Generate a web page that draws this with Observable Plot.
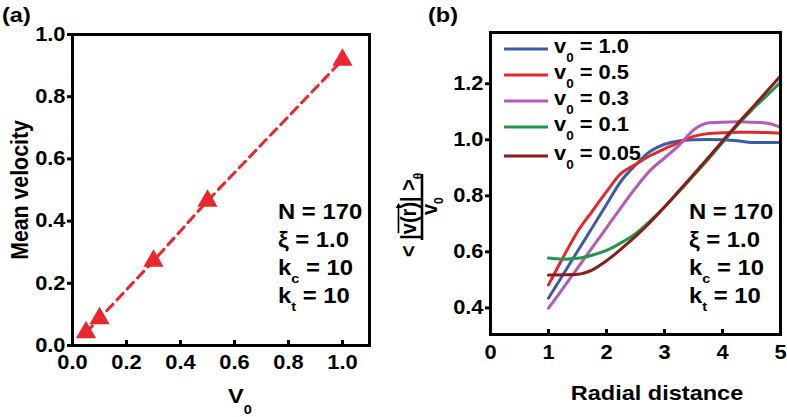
<!DOCTYPE html>
<html>
<head>
<meta charset="utf-8">
<script src="https://cdn.jsdelivr.net/npm/d3@7"></script>
<script src="https://cdn.jsdelivr.net/npm/@observablehq/plot@0.6"></script>
<style>
  html, body { margin: 0; padding: 0; background: #fff; }
  #wrap { position: relative; width: 787px; height: 417px; overflow: hidden; background: #fff;
          font-family: "Liberation Sans", Arial, sans-serif; font-weight: bold; }
  #wrap > .p { position: absolute; top: 0; }
  #wrap > .p text { font-family: "Liberation Sans", Arial, sans-serif; font-size: 19.5px; font-weight: bold; }
  #overlay { position: absolute; left: 0; top: 0; pointer-events: none; }
  #overlay text { font-family: "Liberation Sans", Arial, sans-serif; font-weight: bold; fill: #000; }
</style>
</head>
<body>
<div id="wrap"></div>
<script>
// ---------- Panel (a) data ----------
const v0Values = [0.05, 0.1, 0.3, 0.5, 1.0];
const meanVelocity = [0.042, 0.087, 0.272, 0.465, 0.918];
const aXTicks = [0.0, 0.2, 0.4, 0.6, 0.8, 1.0];
const aYTicks = [0.0, 0.2, 0.4, 0.6, 0.8, 1.0];

// ---------- Panel (b) data ----------
const radial = [1.0, 1.25, 1.5, 1.75, 2.0, 2.25, 2.5, 2.75, 3.0, 3.25, 3.5, 3.75, 4.0, 4.25, 4.5, 4.75, 5.0];
const v10  = [0.435, 0.518, 0.602, 0.685, 0.769, 0.852, 0.910, 0.958, 0.984, 0.996, 1.000, 1.001, 1.000, 0.997, 0.990, 0.990, 0.990];
const v05  = [0.482, 0.580, 0.672, 0.744, 0.815, 0.880, 0.912, 0.943, 0.968, 0.990, 1.012, 1.022, 1.025, 1.027, 1.027, 1.026, 1.023];
const v03  = [0.399, 0.470, 0.542, 0.614, 0.686, 0.758, 0.828, 0.890, 0.935, 0.980, 1.035, 1.060, 1.063, 1.064, 1.063, 1.060, 1.045];
const v01  = [0.578, 0.574, 0.577, 0.588, 0.605, 0.632, 0.665, 0.710, 0.760, 0.815, 0.872, 0.930, 0.990, 1.050, 1.105, 1.155, 1.205];
const v005 = [0.517, 0.518, 0.520, 0.535, 0.568, 0.610, 0.655, 0.705, 0.760, 0.818, 0.876, 0.935, 0.995, 1.055, 1.112, 1.170, 1.228];
const seriesNames  = ["1.0", "0.5", "0.3", "0.1", "0.05"];
const seriesValues = [v10, v05, v03, v01, v005];
const seriesColors = ["#3b5ba9", "#e3282c", "#b45bb5", "#23974a", "#8b1c1c"];
const bXTicks = [0, 1, 2, 3, 4, 5];
const bYTicks = [0.4, 0.6, 0.8, 1.0, 1.2];

const annotLines = [["N", "", " = 170"], ["ξ", "", " = 1.0"], ["k", "c", " = 10"], ["k", "t", " = 10"]];

// ---------- build tables ----------
const aData = v0Values.map((x, i) => ({x, y: meanVelocity[i]}));
const bData = [];
seriesNames.forEach((name, s) => {
  radial.forEach((r, i) => bData.push({series: name, r, v: seriesValues[s][i]}));
});

const SX = 1.12; // horizontal stretch of the original lettering
const baseStyle = {fontFamily: "Liberation Sans, Arial, sans-serif", fontSize: "19.5px", fontWeight: "bold",
                   background: "transparent", overflow: "visible", color: "#000"};
const f1 = d3.format(".1f");

const plotA = Plot.plot({
  width: 400, height: 417,
  marginLeft: 72, marginRight: 31, marginTop: 34, marginBottom: 72,
  style: baseStyle,
  x: {domain: [0, 1.1], label: null},
  y: {domain: [0, 1.0], label: null},
  marks: [
    Plot.axisX({ticks: aXTicks, tickFormat: f1, tickSize: -5, tickPadding: 15, strokeWidth: 3, label: null}),
    Plot.axisY({ticks: aYTicks, tickFormat: f1, tickSize: 5, tickPadding: 2, strokeWidth: 3, label: null}),
    Plot.line(aData, {x: "x", y: "y", stroke: "#e8262b", strokeWidth: 3, strokeDasharray: "9,6"}),
    Plot.dot(aData, {x: "x", y: "y", symbol: "triangle", r: 7.5, fill: "#e8262b", stroke: "none"}),
    Plot.frame({strokeWidth: 3})
  ]
});
plotA.classList.add("p");
plotA.style.left = "0px";

const plotB = Plot.plot({
  width: 387, height: 417,
  marginLeft: 90, marginRight: 7, marginTop: 32, marginBottom: 83,
  style: baseStyle,
  x: {domain: [0, 5], label: null},
  y: {domain: [0.305, 1.383], label: null},
  color: {domain: seriesNames, range: seriesColors},
  marks: [
    Plot.axisX({ticks: bXTicks, tickFormat: d3.format("d"), tickSize: -5, tickPadding: 16, strokeWidth: 3, label: null}),
    Plot.axisY({ticks: bYTicks, tickFormat: f1, tickSize: 5, tickPadding: 2, strokeWidth: 3, label: null}),
    Plot.line(bData, {x: "r", y: "v", z: "series", stroke: "series", strokeWidth: 3, curve: "monotone-x"}),
    Plot.frame({strokeWidth: 3})
  ]
});
plotB.classList.add("p");
plotB.style.left = "400px";

// widen tick-label lettering like the original (scale about each label's own anchor)
[plotA, plotB].forEach(p => {
  p.querySelectorAll('g[aria-label$="tick label"] text').forEach(t => {
    const tr = t.getAttribute("transform") || "";
    t.setAttribute("transform", `${tr} scale(${SX},1)`);
    const xa = t.getAttribute("x");
    if (xa !== null && xa !== "" && !isNaN(+xa)) t.setAttribute("x", (+xa) / SX);
  });
});

const wrap = document.getElementById("wrap");
wrap.appendChild(plotA);
wrap.appendChild(plotB);

// ---------- overlay texts (titles, labels, legend, annotations) ----------
const svg = d3.select(wrap).append("svg").attr("id", "overlay").attr("width", 787).attr("height", 417);
function label(x, y, size, rotate = false) {
  const tr = rotate ? `translate(${x},${y}) rotate(-90) scale(1,${SX})` : `translate(${x},${y}) scale(${SX},1)`;
  return svg.append("g").attr("transform", tr).append("text").attr("font-size", size);
}

label(2, 22, 21).text("(a)");
label(428, 22, 21).text("(b)");

label(28, 190, 21.3, true).attr("text-anchor", "middle").text("Mean velocity");

const v0lab = label(228, 403, 21);
v0lab.append("tspan").text("V");
v0lab.append("tspan").attr("font-size", 13).attr("dy", 11).text("0");

label(657, 400, 21).attr("text-anchor", "middle").text("Radial distance");

// fraction label for panel (b)
const g = svg.append("g").attr("transform", `translate(422,207) rotate(-90) scale(1,${SX})`);
g.append("line").attr("x1", -33).attr("x2", 33).attr("y1", 0).attr("y2", 0).attr("stroke", "#000").attr("stroke-width", 2.3);
const num = g.append("text").attr("x", -50).attr("y", -5).attr("font-size", 20);
num.append("tspan").text("< |");
num.append("tspan").attr("id", "vr").text("v(r)");
num.append("tspan").text("| >");
num.append("tspan").attr("font-size", 12).attr("dy", 5).text("θ");
const den = g.append("text").attr("x", -8).attr("y", 13.5).attr("font-size", 20);
den.append("tspan").text("v");
den.append("tspan").attr("font-size", 12).attr("dy", 5).text("0");
// arrow over v(r)
{
  const n = document.getElementById("vr");
  const start = n.getStartPositionOfChar(0).x;
  const end = n.getEndPositionOfChar(3).x;
  g.append("line").attr("x1", start + 1).attr("x2", end - 3).attr("y1", -21).attr("y2", -21)
    .attr("stroke", "#000").attr("stroke-width", 1.5);
  g.append("path").attr("d", `M${end - 1},-21 L${end - 6},-23.5 L${end - 6},-18.5 Z`).attr("fill", "#000");
}

// legend
seriesNames.forEach((name, i) => {
  const ly = 49 + i * 26 + (i === 4 ? 3 : 0);
  svg.append("line").attr("x1", 504).attr("x2", 548).attr("y1", ly).attr("y2", ly)
    .attr("stroke", seriesColors[i]).attr("stroke-width", 3);
  const t = label(554, ly + 4, 19.5);
  t.append("tspan").text("v");
  t.append("tspan").attr("font-size", 12).attr("dy", 9).text("0");
  t.append("tspan").attr("dy", -9).text(" = " + name);
});

// annotations in both panels
[278, 689].forEach(x0 => {
  annotLines.forEach((ln, i) => {
    const t = label(x0, 219 + i * 28, 21.3);
    t.append("tspan").text(ln[0]);
    if (ln[1]) {
      t.append("tspan").attr("font-size", 13).attr("dy", 8).text(ln[1]);
      t.append("tspan").attr("dy", -8).text(ln[2]);
    } else {
      t.append("tspan").text(ln[2]);
    }
  });
});
</script>
</body>
</html>
